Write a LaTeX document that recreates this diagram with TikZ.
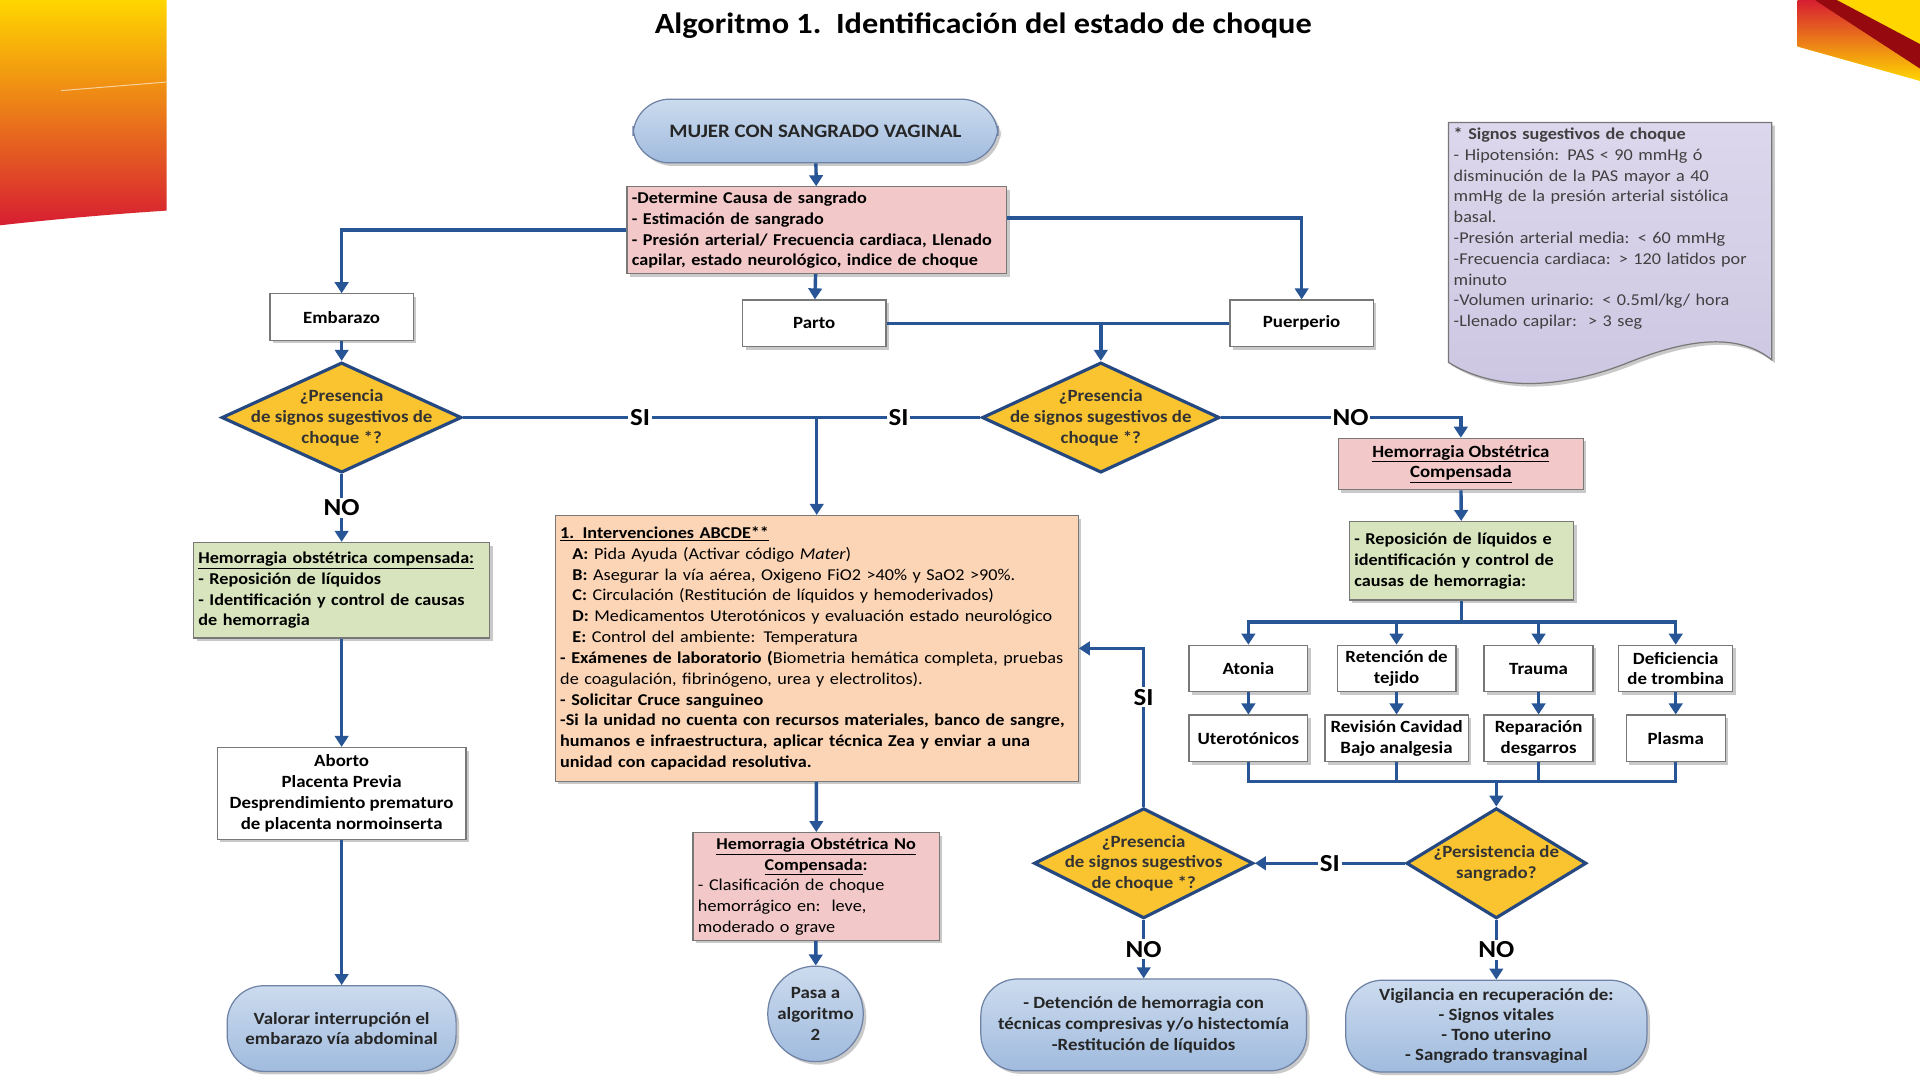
\documentclass[tikz,border=0pt]{standalone}
\usepackage{fontspec}
\setmainfont{Carlito}[FakeStretch=1.1]
\usetikzlibrary{shapes.geometric,positioning,arrows.meta,shadows}

\definecolor{azul}{RGB}{40,85,150}
\definecolor{azulrombo}{RGB}{38,72,128}
\definecolor{oro}{RGB}{250,196,48}
\definecolor{borde}{RGB}{120,120,120}
\definecolor{rosa}{RGB}{242,201,200}
\definecolor{naranja}{RGB}{251,213,181}
\definecolor{verde}{RGB}{215,228,189}
\definecolor{lila}{RGB}{220,215,236}
\definecolor{lilab}{RGB}{205,198,226}
\definecolor{celestea}{RGB}{204,219,238}
\definecolor{celesteb}{RGB}{160,187,222}
\definecolor{bordeazul}{RGB}{110,130,165}
\definecolor{amarillo}{RGB}{255,214,0}
\definecolor{naranjaf}{RGB}{255,110,25}
\definecolor{rojo}{RGB}{215,30,50}
\definecolor{rojooscuro}{RGB}{150,10,15}

\tikzset{
  fuente/.style={font=\fontsize{13.5}{17}\selectfont},
  fuenteb/.style={font=\fontsize{13.5}{17}\selectfont\bfseries},
  fuentec/.style={font=\fontsize{14}{17}\selectfont\bfseries},
  sombra/.style={drop shadow={shadow xshift=2.5pt, shadow yshift=-2.5pt, opacity=0.35, fill=black!60}},
  caja/.style={rectangle, draw=borde, line width=1pt, fill=white, sombra, fuentec, inner sep=4pt, align=center},
  terminal/.style={rectangle, rounded corners=30pt, draw=bordeazul, line width=1pt, top color=celestea, bottom color=celesteb, sombra, fuentec, align=center, text=black!85},
  rombo/.style={diamond, draw=azulrombo, line width=2.6pt, fill=oro, inner sep=0pt},
  rombotexto/.style={fuentec, align=center, text=black!80},
  linea/.style={draw=azul, line width=2.8pt},
  flecha/.style={linea, -{Triangle[width=11pt,length=9pt]}},
  etiqueta/.style={fill=white, inner sep=1.5pt, font=\fontsize{20}{22}\selectfont\bfseries}
}

\begin{document}
\begin{tikzpicture}[x=1pt, y=-1pt]
\useasboundingbox (0,0) rectangle (1568,882);
\fill[white] (0,0) rectangle (1568,882);

%decoracion esquinas
\shade[top color=amarillo, middle color=naranjaf, bottom color=rojo] (0,0) -- (136,0) -- (136,172) .. controls (90,175) and (45,179) .. (0,184) -- cycle;
\draw[white, opacity=0.6, line width=0.8pt] (50,74) -- (136,67);
\fill[amarillo] (1468,0) -- (1568,0) -- (1568,66) -- (1468,38) -- cycle;
\shade[top color=rojo, bottom color=amarillo] (1468,0) -- (1482,0) -- (1568,52) -- (1568,66) -- (1468,38) -- cycle;
\fill[rojooscuro] (1482,0) -- (1500,0) -- (1568,36) -- (1568,56) -- cycle;

%titulo
\node[font=\fontsize{24}{28}\selectfont\bfseries] (titulo) at (803,21) {Algoritmo 1.\ \ Identificación del estado de choque};

%inicio
\node[terminal, minimum width=298pt, minimum height=52pt, font=\fontsize{15.5}{18}\selectfont\bfseries] (mujer) at (666,107) {MUJER CON SANGRADO VAGINAL};
\node[caja, fill=rosa, minimum width=310pt, minimum height=66pt, text width=302pt, align=left, fuenteb] (determina) at (667,188) {-Determine Causa de sangrado\\- Estimación de sangrado\\- Presión arterial/ Frecuencia cardiaca, Llenado\\capilar, estado neurológico, indice de choque};
\draw[flecha] (mujer) -- (determina);

\node[caja, minimum width=117pt, minimum height=38pt] (embarazo) at (279,259) {Embarazo};
\node[caja, minimum width=117pt, minimum height=38pt] (parto) at (665,264) {Parto};
\node[caja, minimum width=117pt, minimum height=38pt] (puerperio) at (1063,264) {Puerperio};
\draw[flecha] (determina) -- (parto);
\draw[flecha] (determina.west) -| (embarazo.north);
\draw[flecha] ([yshift=10pt]determina.east) -| (puerperio.north);

%decisiones
\node[rombo, minimum width=196pt, minimum height=90pt] (dec1) at (279,341) {};
\node[rombotexto] at (dec1) {¿Presencia\\de signos sugestivos de\\choque *?};
\node[rombo, minimum width=194pt, minimum height=90pt] (dec2) at (899,341) {};
\node[rombotexto] at (dec2) {¿Presencia\\de signos sugestivos de\\choque *?};
\draw[flecha] (embarazo) -- (dec1);
\draw[linea] (parto) -- (puerperio);
\draw[flecha] (parto -| dec2) -- (dec2);

%intervenciones
\node[caja, fill=naranja, minimum width=427pt, minimum height=217pt, text width=419pt, align=left, fuente] (abcde) at (667,529.5) {\textbf{\underline{1. Intervenciones ABCDE**}}\\
\hspace*{10pt}\textbf{A:} Pida Ayuda (Activar código \textit{Mater})\\
\hspace*{10pt}\textbf{B:} Asegurar la vía aérea, Oxigeno FiO2 >40\% y SaO2 >90\%.\\
\hspace*{10pt}\textbf{C:} Circulación (Restitución de líquidos y hemoderivados)\\
\hspace*{10pt}\textbf{D:} Medicamentos Uterotónicos y evaluación estado neurológico\\
\hspace*{10pt}\textbf{E:} Control del ambiente: Temperatura\\
\textbf{- Exámenes de laboratorio (}Biometria hemática completa, pruebas\\
de coagulación, fibrinógeno, urea y electrolitos).\\
\textbf{- Solicitar Cruce sanguineo}\\
\textbf{-Si la unidad no cuenta con recursos materiales, banco de sangre,}\\
\textbf{humanos e infraestructura, aplicar técnica Zea y enviar a una}\\
\textbf{unidad con capacidad resolutiva.}};
\coordinate (union) at (dec1 -| abcde);
\draw[linea] (dec1.east) -- node[etiqueta]{SI} (union);
\draw[linea] (dec2.west) -- node[etiqueta]{SI} (union);
\draw[flecha] (union) -- (abcde);

\node[caja, fill=rosa, minimum width=201pt, minimum height=88pt, text width=193pt, align=left, fuente] (nocomp) at (666.5,724) {\makebox[193pt][c]{\textbf{\underline{Hemorragia Obstétrica No}}}\\\makebox[193pt][c]{\textbf{\underline{Compensada}:}}\\- Clasificación de choque\\hemorrágico en:\ \ leve,\\moderado o grave};
\node[terminal, circle, minimum size=78pt, inner sep=0pt] (pasa) at (666,828) {Pasa a\\algoritmo\\2};
\draw[flecha] (abcde) -- (nocomp);
\draw[flecha] (nocomp) -- (pasa);

%rama embarazo
\node[caja, fill=verde, minimum width=242pt, minimum height=78pt, text width=234pt, align=left, fuenteb] (verde1) at (279,482) {\underline{Hemorragia obstétrica compensada:}\\- Reposición de líquidos\\- Identificación y control de causas\\de hemorragia};
\node[caja, minimum width=203pt, minimum height=75pt] (aborto) at (279,648) {Aborto\\Placenta Previa\\Desprendimiento prematuro\\de placenta normoinserta};
\node[terminal, minimum width=187pt, minimum height=70pt] (valorar) at (279,840) {Valorar interrupción el\\embarazo vía abdominal};
\draw[flecha] (dec1.south) -- node[etiqueta]{NO} (verde1.north);
\draw[flecha] (verde1) -- (aborto);
\draw[flecha] (aborto) -- (valorar);

%signos de choque
\draw[borde, line width=1pt, top color=lila, bottom color=lilab, sombra] (1183,100) -- (1447,100) -- (1447,294) .. controls (1420,272) and (1380,276) .. (1330,296) .. controls (1290,312) and (1230,325) .. (1183,296) -- cycle;
\node[fuente, anchor=north west, text width=258pt, align=left, text=black!75, inner sep=0pt] (signos) at (1187,104) {\textbf{* Signos sugestivos de choque}\\- Hipotensión: PAS < 90 mmHg ó\\disminución de la PAS mayor a 40\\mmHg de la presión arterial sistólica\\basal.\\-Presión arterial media: < 60 mmHg\\-Frecuencia cardiaca: > 120 latidos por\\minuto\\-Volumen urinario: < 0.5ml/kg/ hora\\-Llenado capilar:\ \ > 3 seg};

%rama compensada
\node[caja, fill=rosa, minimum width=200pt, minimum height=42pt] (comp) at (1193,379) {\underline{Hemorragia Obstétrica}\\\underline{Compensada}};
\node[caja, fill=verde, minimum width=183pt, minimum height=64pt, text width=175pt, align=left, fuenteb] (verde2) at (1193.5,458) {- Reposición de líquidos e\\identificación y control de\\causas de hemorragia:};
\draw[flecha] (dec2.east) -| node[etiqueta, pos=0.27]{NO} (comp.north);
\draw[flecha] (comp) -- (verde2);

\node[caja, minimum width=97pt, minimum height=38pt] (atonia) at (1019.5,546) {Atonia};
\node[caja, minimum width=97pt, minimum height=38pt] (retencion) at (1140.5,546) {Retención de\\tejido};
\node[caja, minimum width=89pt, minimum height=38pt] (trauma) at (1256.5,546) {Trauma};
\node[caja, minimum width=93pt, minimum height=38pt] (deficiencia) at (1368.5,546) {Deficiencia\\de trombina};
\node[caja, minimum width=97pt, minimum height=38pt] (utero) at (1019.5,603) {Uterotónicos};
\node[caja, minimum width=117pt, minimum height=38pt] (revision) at (1140.5,603) {Revisión Cavidad\\Bajo analgesia};
\node[caja, minimum width=89pt, minimum height=38pt] (reparacion) at (1256.5,603) {Reparación\\desgarros};
\node[caja, minimum width=81pt, minimum height=38pt] (plasma) at (1368.5,603) {Plasma};

\coordinate (bus1) at (1193.5,508);
\coordinate (bus2) at (1222,638);
\draw[linea] (verde2) -- (bus1);
\foreach \n in {atonia,retencion,trauma,deficiencia}
  \draw[flecha] (bus1) -| (\n.north);
\draw[flecha] (atonia) -- (utero);
\draw[flecha] (retencion) -- (revision);
\draw[flecha] (trauma) -- (reparacion);
\draw[flecha] (deficiencia) -- (plasma);
\foreach \n in {utero,revision,reparacion,plasma}
  \draw[linea] (\n.south) |- (bus2);

%decisiones inferiores
\node[rombo, minimum width=179pt, minimum height=90pt] (dec3) at (934,705) {};
\node[rombotexto] at (dec3) {¿Presencia\\de signos sugestivos\\de choque *?};
\node[rombo, minimum width=147pt, minimum height=90pt] (dec4) at (1222,705) {};
\node[rombotexto] at (dec4) {¿Persistencia de\\sangrado?};
\draw[flecha] (bus2) -- (dec4);
\draw[flecha] (dec4) -- node[etiqueta]{SI} (dec3);
\draw[flecha] (dec3.north) |- node[etiqueta, pos=0.345]{SI} (abcde.east);

\node[terminal, minimum width=266pt, minimum height=75pt] (detencion) at (934,837) {- Detención de hemorragia con\\técnicas compresivas y/o histectomía\\-Restitución de líquidos};
\node[terminal, minimum width=246pt, minimum height=75pt, font=\fontsize{14}{16.5}\selectfont\bfseries] (vigilancia) at (1222,838) {Vigilancia en recuperación de:\\- Signos vitales\\- Tono uterino\\- Sangrado transvaginal};
\draw[flecha] (dec3) -- node[etiqueta]{NO} (detencion);
\draw[flecha] (dec4) -- node[etiqueta]{NO} (vigilancia);

\end{tikzpicture}
\end{document}
